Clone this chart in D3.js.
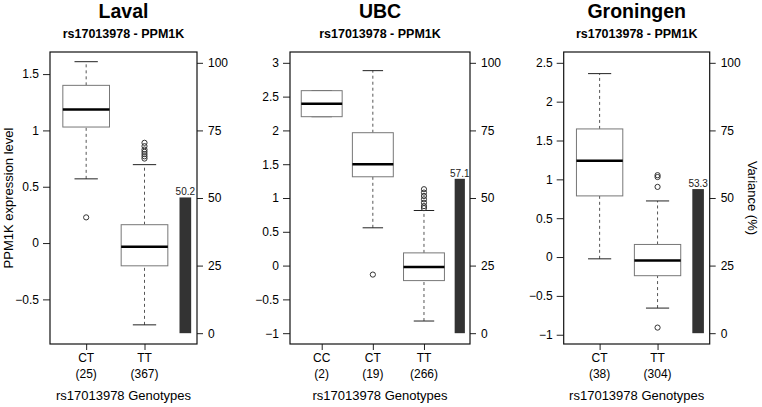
<!DOCTYPE html>
<html>
<head>
<meta charset="utf-8">
<script src="https://cdn.jsdelivr.net/npm/d3@7"></script>
<style>
  body { margin: 0; background: #fff; }
  text { font-family: "Liberation Sans", Arial, sans-serif; fill: #000; }
</style>
</head>
<body>
<svg id="chart" width="762" height="407"></svg>
<script>
// cohorts and genotype groups
const cohorts = ["Laval", "UBC", "Groningen"];
const snpTitle = "rs17013978 - PPM1K";
const genotypes = [["CT", "TT"], ["CC", "CT", "TT"], ["CT", "TT"]];
const counts = [[25, 367], [2, 19, 266], [38, 304]];

// [lower whisker, Q1, median, Q3, upper whisker] per genotype
const lavalStats = [[0.57, 1.03, 1.185, 1.40, 1.61], [-0.726, -0.202, -0.033, 0.163, 0.696]];
const ubcStats = [[2.203, 2.203, 2.395, 2.588, 2.588], [0.559, 1.314, 1.50, 1.966, 2.884], [-0.82, -0.222, -0.02, 0.188, 0.815]];
const gronStats = [[-0.023, 0.787, 1.239, 1.649, 2.361], [-0.657, -0.24, -0.045, 0.162, 0.722]];

const lavalOutliers = [[0.228], [0.75, 0.77, 0.79, 0.81, 0.83, 0.86, 0.89]];
const ubcOutliers = [[], [-0.133], [0.85, 0.88, 0.93, 0.98, 1.03, 1.08, 1.13]];
const gronOutliers = [[], [1.054, 1.03, 0.903, -0.908]];

// percent variance explained
const variance = [50.2, 57.1, 53.3];

// y ranges and tick labels
const yLimits = [[-0.80, 1.60], [-1, 3], [-0.98, 2.5]];
const yTicks = [[-0.5, 0, 0.5, 1, 1.5], [-1, -0.5, 0, 0.5, 1, 1.5, 2, 2.5, 3], [-1, -0.5, 0, 0.5, 1, 1.5, 2, 2.5]];
const varTicks = [0, 25, 50, 75, 100];

const stats = [lavalStats, ubcStats, gronStats];
const outliers = [lavalOutliers, ubcOutliers, gronOutliers];

// layout
const frames = [[50, 197], [290, 470], [563.7, 709.7]];
const plotTop = 52, plotBottom = 344;

const svg = d3.select('#chart');

function extend(lim) {
    const d = (lim[1] - lim[0]) * 0.04;
    return [lim[0] - d, lim[1] + d];
}

cohorts.forEach((name, p) => {
    const n = genotypes[p].length;
    const x = d3.scaleLinear().domain([0.38, n + 0.9]).range(frames[p]);
    const y = d3.scaleLinear().domain(extend(yLimits[p])).range([plotBottom, plotTop]);
    const yv = d3.scaleLinear().domain(extend([0, 100])).range([plotBottom, plotTop]);
    const cx = (frames[p][0] + frames[p][1]) / 2;
    const g = svg.append('g');

    // titles
    g.append('text')
        .attr('x', cx).attr('y', 18)
        .attr('text-anchor', 'middle')
        .style('font-size', '19.5px').style('font-weight', 'bold')
        .text(name);
    g.append('text')
        .attr('x', cx).attr('y', 37.5)
        .attr('text-anchor', 'middle')
        .style('font-size', '12.5px').style('font-weight', 'bold')
        .text(snpTitle);

    // boxes
    const bw = 0.8, cw = 0.4;
    stats[p].forEach((s, i) => {
        const pos = i + 1;
        const bx = g.append('g');
        // whiskers
        [[s[0], s[1]], [s[3], s[4]]].forEach(w => {
            if (w[0] === w[1]) { return; }
            bx.append('line')
                .attr('x1', x(pos)).attr('x2', x(pos))
                .attr('y1', y(w[0])).attr('y2', y(w[1]))
                .attr('stroke', '#555').attr('stroke-dasharray', '3,3');
        });
        [s[0], s[4]].forEach(v => {
            bx.append('line')
                .attr('x1', x(pos - cw / 2)).attr('x2', x(pos + cw / 2))
                .attr('y1', y(v)).attr('y2', y(v))
                .attr('stroke', '#222');
        });
        bx.append('rect')
            .attr('x', x(pos - bw / 2)).attr('width', x(pos + bw / 2) - x(pos - bw / 2))
            .attr('y', y(s[3])).attr('height', y(s[1]) - y(s[3]))
            .attr('fill', '#fff').attr('stroke', '#777');
        bx.append('line')
            .attr('x1', x(pos - bw / 2)).attr('x2', x(pos + bw / 2))
            .attr('y1', y(s[2])).attr('y2', y(s[2]))
            .attr('stroke', '#000').attr('stroke-width', 2.6);
        bx.selectAll('circle')
            .data(outliers[p][i])
            .enter().append('circle')
            .attr('cx', x(pos)).attr('cy', d => y(d))
            .attr('r', 2.6)
            .attr('fill', 'none').attr('stroke', '#333');
    });

    // variance bar
    const barPos = n + 0.7;
    g.append('rect')
        .attr('x', x(barPos - 0.1)).attr('width', x(barPos + 0.1) - x(barPos - 0.1))
        .attr('y', yv(variance[p])).attr('height', yv(0) - yv(variance[p]))
        .attr('fill', '#333');
    g.append('text')
        .attr('x', x(barPos)).attr('y', yv(variance[p]) - 2)
        .attr('text-anchor', 'middle')
        .style('font-size', '10px').style('fill', '#222')
        .text(variance[p].toFixed(1));

    // axes
    const left = g.append('g')
        .attr('transform', 'translate(' + frames[p][0] + ',0)')
        .call(d3.axisLeft(y).tickValues(yTicks[p]).tickSize(7).tickPadding(4)
            .tickFormat(d3.format('')));
    const right = g.append('g')
        .attr('transform', 'translate(' + frames[p][1] + ',0)')
        .call(d3.axisRight(yv).tickValues(varTicks).tickSize(6).tickPadding(5));
    const xa = g.append('g')
        .attr('transform', 'translate(0,' + plotBottom + ')')
        .call(d3.axisBottom(x).tickValues(d3.range(1, n + 1)).tickSize(6)
            .tickFormat(''));
    [left, right, xa].forEach(a => {
        a.select('.domain').remove();
        a.selectAll('.tick line').attr('stroke', '#222');
        a.selectAll('text').style('font-size', '12px').style('font-family', '"Liberation Sans", Arial, sans-serif');
    });

    // genotype labels with counts
    genotypes[p].forEach((gt, i) => {
        const t = g.append('text')
            .attr('x', x(i + 1)).attr('y', 362)
            .attr('text-anchor', 'middle')
            .style('font-size', '12px');
        t.append('tspan').attr('x', x(i + 1)).text(gt);
        t.append('tspan').attr('x', x(i + 1)).attr('dy', 16).text('(' + counts[p][i] + ')');
    });

    // frame
    g.append('rect')
        .attr('x', frames[p][0]).attr('y', plotTop)
        .attr('width', frames[p][1] - frames[p][0]).attr('height', plotBottom - plotTop)
        .attr('fill', 'none').attr('stroke', '#111').attr('stroke-width', 1.2);

    g.append('text')
        .attr('x', cx).attr('y', 400)
        .attr('text-anchor', 'middle')
        .style('font-size', '13px')
        .text('rs17013978 Genotypes');
});

// shared axis titles
svg.append('text')
    .attr('transform', 'translate(12.5,198) rotate(-90)')
    .attr('text-anchor', 'middle')
    .style('font-size', '13px')
    .text('PPM1K expression level');
svg.append('text')
    .attr('transform', 'translate(748,198) rotate(90)')
    .attr('text-anchor', 'middle')
    .style('font-size', '13px')
    .text('Variance (%)');
</script>
</body>
</html>
